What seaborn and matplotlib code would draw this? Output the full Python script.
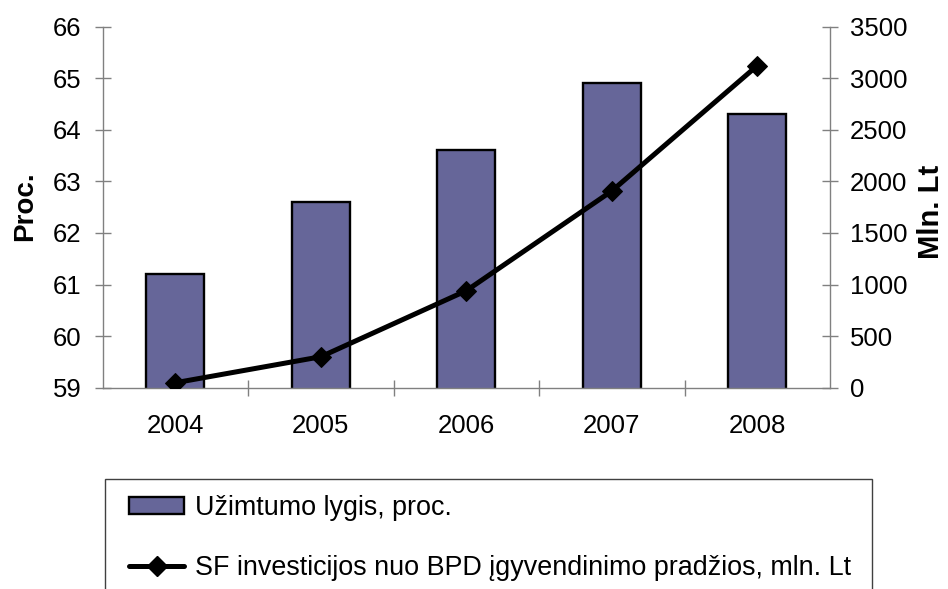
import matplotlib
matplotlib.use("Agg")
import numpy as np
import pandas as pd
import seaborn as sns
import matplotlib.pyplot as plt
from matplotlib.patches import Patch, Rectangle
from matplotlib.lines import Line2D

# Data
years = ["2004", "2005", "2006", "2007", "2008"]
employment_rate = [61.2, 62.6, 63.6, 64.9, 64.3]          # %, left axis
sf_investment = [48, 300, 940, 1907, 3122]                 # mln. Lt, right axis
left_ticks = [59, 60, 61, 62, 63, 64, 65, 66]
right_ticks = [0, 500, 1000, 1500, 2000, 2500, 3000, 3500]
left_title = "Proc."
right_title = "Mln. Lt"
bar_label = "Užimtumo lygis, proc."
line_label = "SF investicijos nuo BPD įgyvendinimo pradžios, mln. Lt"

BAR_COLOR = "#666699"
AXIS_GREY = "#808080"

sns.set_theme(style="white")
plt.rcParams["font.family"] = ["Liberation Sans", "DejaVu Sans"]
plt.rcParams["text.color"] = "black"
plt.rcParams["axes.labelcolor"] = "black"

W, H = 948, 589
fig = plt.figure(figsize=(W / 100, H / 100), dpi=100)

# plot area in pixels: x 102.5..830, y 26.7..387.7
x0, x1, y0, y1 = 102.5, 830.0, 26.7, 387.7
ax = fig.add_axes([x0 / W, 1 - y1 / H, (x1 - x0) / W, (y1 - y0) / H])

df = pd.DataFrame({"year": years, "rate": employment_rate, "sf": sf_investment})

sns.barplot(data=df, x="year", y="rate", ax=ax, color=BAR_COLOR,
            saturation=1, edgecolor="black", linewidth=1.7, width=0.4,
            zorder=2)

ax.set_ylim(59, 66)
ax.set_yticks(left_ticks)
ax.set_xlim(-0.5, len(years) - 0.5)
ax.set_xlabel("")
ax.set_ylabel("")

# secondary axis with the cumulative investment line
ax2 = ax.twinx()
sns.lineplot(x=np.arange(len(years)), y=df["sf"], ax=ax2, color="black",
             linewidth=3.6, marker="D", markersize=10.5,
             markeredgecolor="black", markerfacecolor="black", legend=False)
ax2.set_ylim(0, 3500)
ax2.set_yticks(right_ticks)
ax2.set_xlim(-0.5, len(years) - 0.5)
ax2.set_xlabel("")
ax2.set_ylabel("")

# spines
for s in ("top", "right"):
    ax.spines[s].set_visible(False)
for s in ("left", "bottom"):
    ax.spines[s].set_color(AXIS_GREY)
    ax.spines[s].set_linewidth(1.0)
for s in ("top", "left", "bottom"):
    ax2.spines[s].set_visible(False)
ax2.spines["right"].set_color(AXIS_GREY)
ax2.spines["right"].set_linewidth(1.0)

# ticks
ax.tick_params(axis="y", direction="inout", length=11, width=1,
               color=AXIS_GREY, labelsize=18.5, labelcolor="black", pad=9.5,
               left=True)
ax2.tick_params(axis="y", direction="inout", length=11, width=1,
                color=AXIS_GREY, labelsize=18.5, labelcolor="black", pad=9,
                right=True)
ax.set_xticks(range(len(years)))
ax.set_xticklabels(years)
ax.set_xticks(np.arange(0.5, len(years) - 0.5, 1.0), minor=True)
ax.tick_params(axis="x", which="major", length=0, labelsize=18.5,
               labelcolor="black", pad=19)
ax.tick_params(axis="x", which="minor", direction="inout", length=11,
               width=1, color=AXIS_GREY, bottom=True)
ax.grid(False)
ax2.grid(False)

# axis titles
fig.text(25.5 / W, 1 - 206.5 / H, left_title, rotation=90, fontsize=20,
         fontweight="bold", ha="center", va="center", color="black")
fig.text(931 / W, 1 - 212 / H, right_title, rotation=90, fontsize=21,
         fontweight="bold", ha="center", va="center", color="black")

# legend below the plot, framed by a box that runs past the bottom edge
handles = [
    Patch(facecolor=BAR_COLOR, edgecolor="black", linewidth=1.7),
    Line2D([], [], color="black", linewidth=3.6, marker="D", markersize=10.5,
           markerfacecolor="black", markeredgecolor="black"),
]
fig.legend(handles, [bar_label, line_label], loc="upper left",
           bbox_to_anchor=(129 / W, 1 - 495 / H), frameon=False,
           fontsize=19.4, handlelength=2.05, handleheight=0.56,
           handletextpad=0.4, labelspacing=1.25, borderpad=0,
           borderaxespad=0, labelcolor="black")
fig.patches.append(Rectangle((104.7 / W, -0.05), (871.7 - 104.7) / W,
                             (1 - 479 / H) + 0.05, transform=fig.transFigure,
                             fill=False, edgecolor="#404040", linewidth=1.0))

fig.savefig("out.png", dpi=100)
